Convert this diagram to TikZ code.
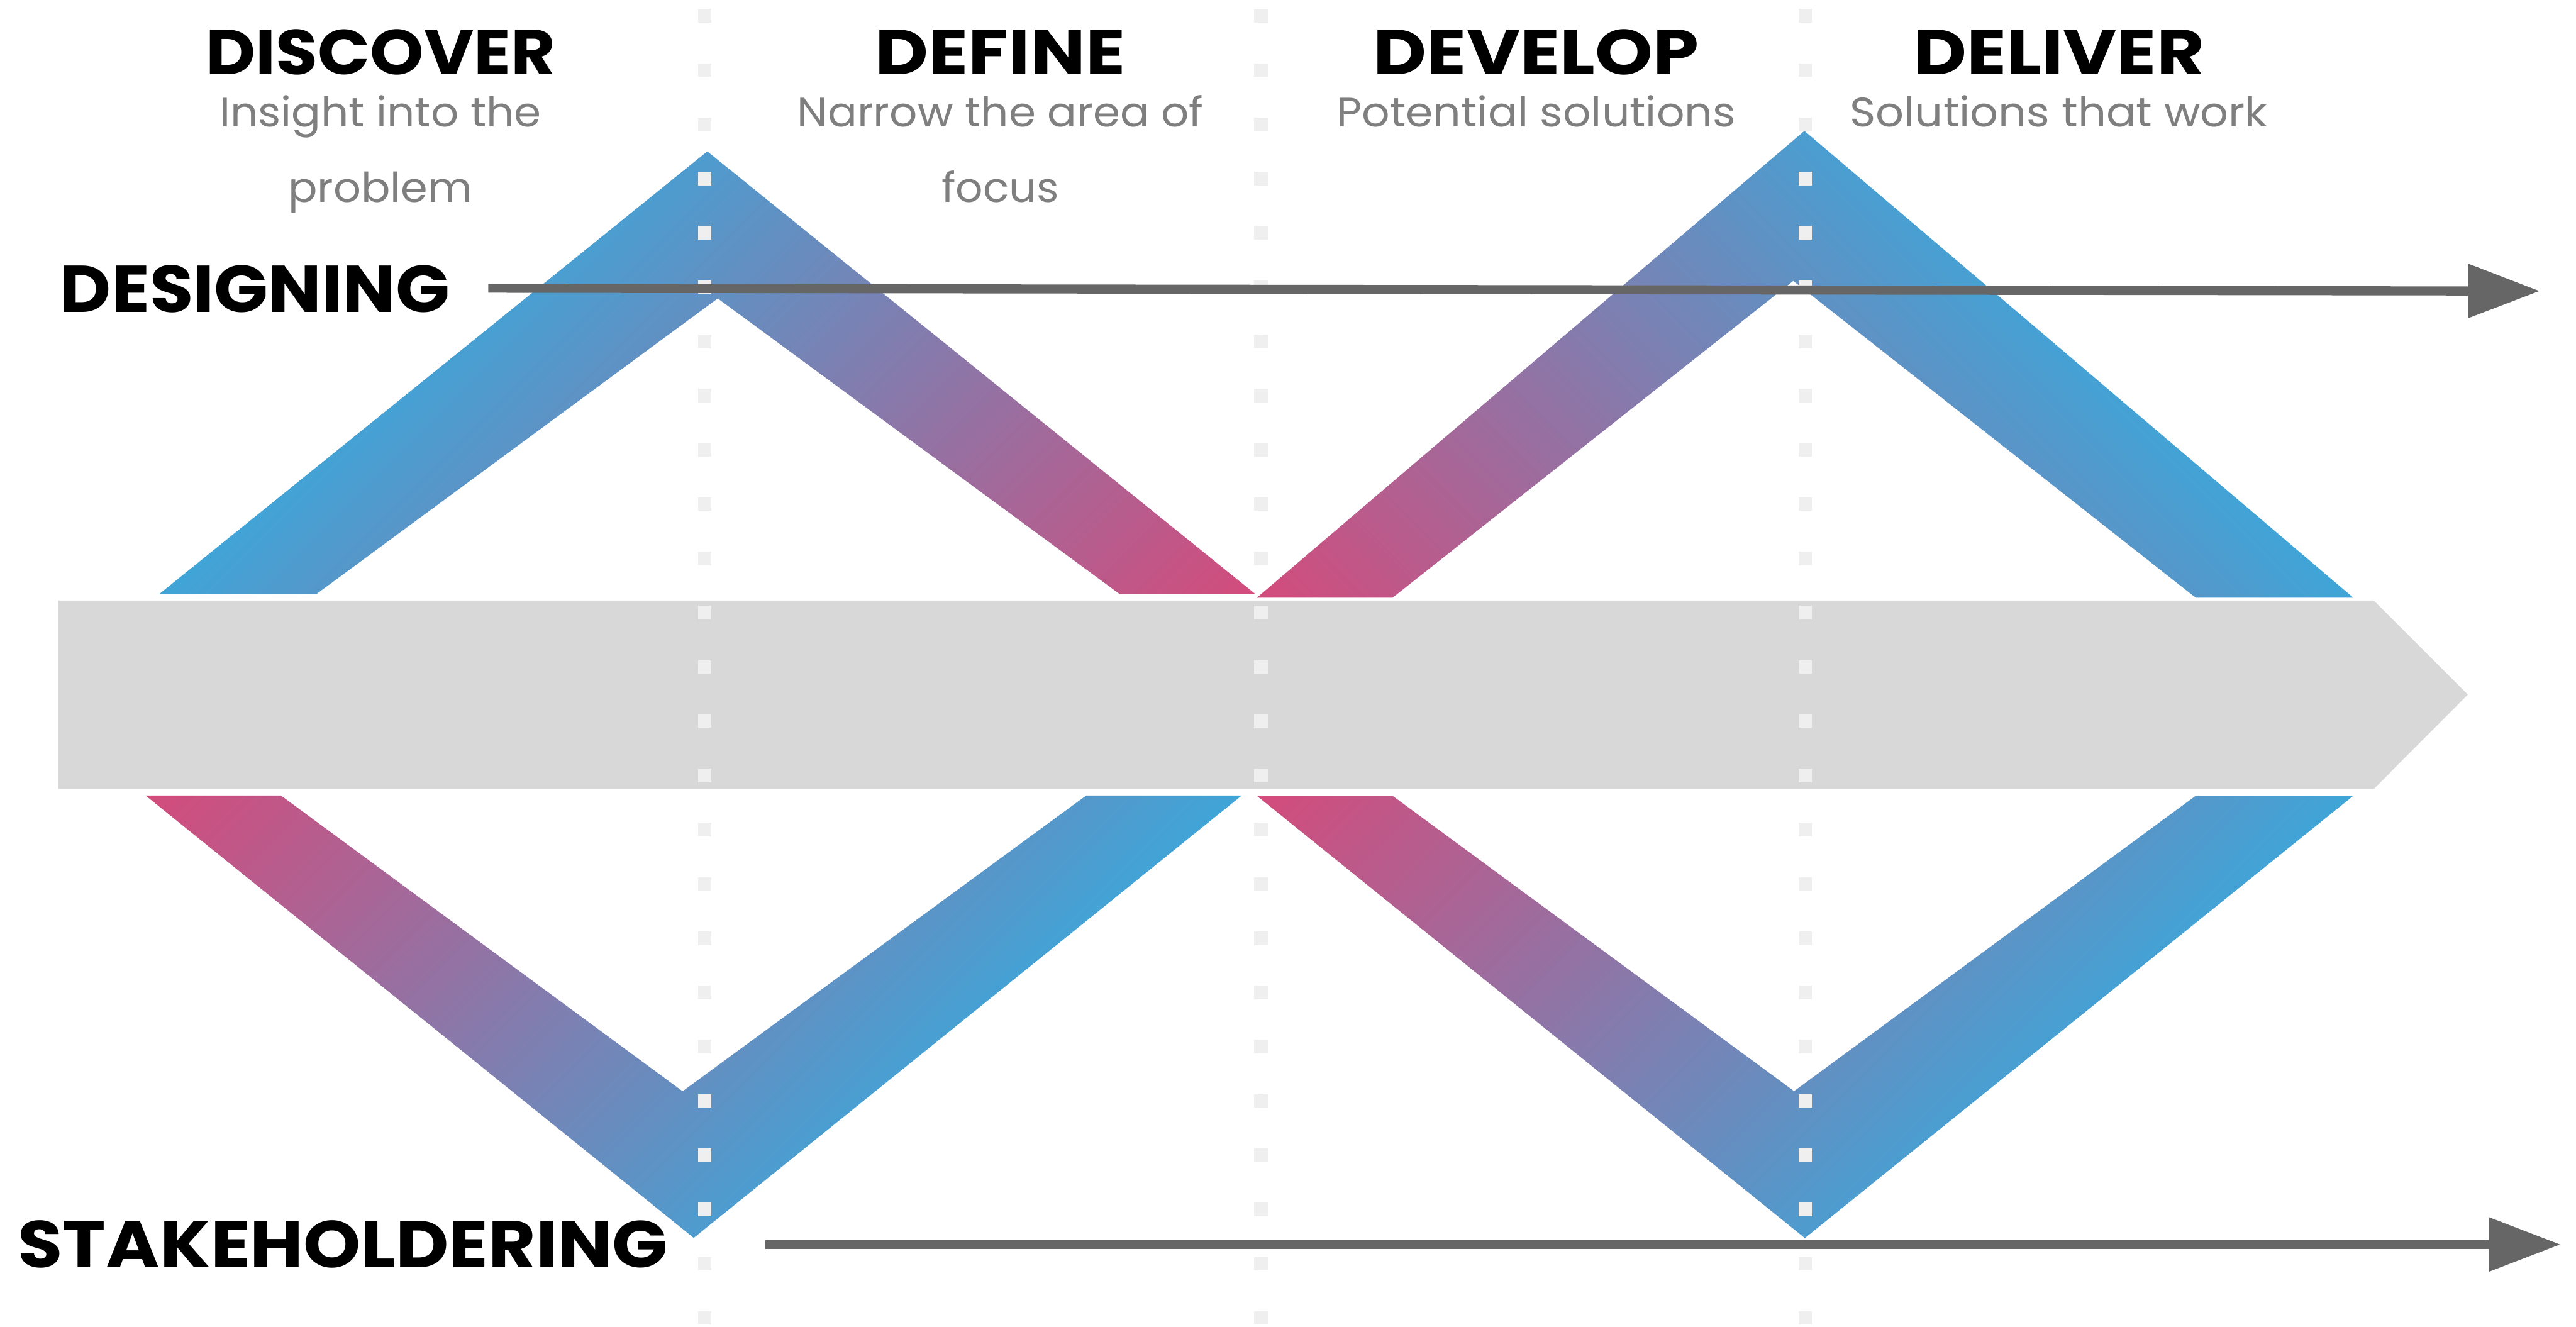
\documentclass[tikz,border=0pt]{standalone}
\usepackage{graphicx}
\usepackage{fontspec}
\setmainfont{Poppins}
\usetikzlibrary{arrows.meta}

\definecolor{dvblue}{RGB}{63,165,216}
\definecolor{dvpink}{RGB}{212,75,123}
\definecolor{bandgray}{RGB}{216,216,216}
\definecolor{dotgray}{RGB}{239,239,239}
\definecolor{arrowgray}{RGB}{102,102,102}
\definecolor{subgray}{RGB}{127,127,127}

\tikzset{
  phase/.style={font=\fontsize{31.9}{36}\selectfont\bfseries, text=black, inner sep=0pt, anchor=base},
  phasenote/.style={font=\fontsize{20.7}{38.1}\selectfont, text=subgray, inner sep=0pt, anchor=base, align=center},
  track/.style={font=\fontsize{33.3}{38}\selectfont\bfseries, text=black, inner sep=0pt, anchor=base west},
  timeline/.style={draw=arrowgray, line width=1.6mm, -{Triangle[length=12.7mm,width=9.2mm]}},
  divider/.style={draw=dotgray, line width=2.4mm, dash pattern=on 2.4mm off 7.2mm},
}

\begin{document}
\begin{tikzpicture}
\useasboundingbox (0,0) rectangle (45.58,23.48);
\fill[white] (0,0) rectangle (45.58,23.48);

% upper chevron: discover / define (blue top-left to pink bottom-right)
\begin{scope}
  \clip (2.82,12.97) -- (12.515,20.80) -- (22.21,12.97) -- (19.81,12.97)
        -- (12.70,18.20) -- (5.60,12.97) -- cycle;
  \begin{scope}[transform canvas={rotate=-45}]
    \shade[left color=dvblue, right color=dvpink] (-7.25,-5) rectangle (6.60,40);
  \end{scope}
\end{scope}

% upper chevron: develop / deliver (pink bottom-left to blue top-right)
\begin{scope}
  \clip (22.24,12.905) -- (31.927,21.163) -- (41.637,12.905) -- (38.85,12.905)
        -- (31.73,18.51) -- (24.64,12.905) -- cycle;
  \begin{scope}[transform canvas={rotate=45}]
    \shade[left color=dvpink, right color=dvblue] (24.78,-40) rectangle (38.64,10);
  \end{scope}
\end{scope}

% lower chevron: discover / define (pink top-left to blue bottom-right)
\begin{scope}
  \clip (2.576,9.404) -- (12.275,1.577) -- (21.97,9.404) -- (19.22,9.404)
        -- (12.078,4.17) -- (4.97,9.404) -- cycle;
  \begin{scope}[transform canvas={rotate=-45}]
    \shade[left color=dvpink, right color=dvblue] (-4.90,-5) rectangle (8.95,40);
  \end{scope}
\end{scope}

% lower chevron: develop / deliver (pink top-left to blue bottom-right)
\begin{scope}
  \clip (22.24,9.398) -- (31.935,1.574) -- (41.637,9.398) -- (38.85,9.398)
        -- (31.744,4.172) -- (24.64,9.398) -- cycle;
  \begin{scope}[transform canvas={rotate=-45}]
    \shade[left color=dvpink, right color=dvblue] (9.01,0) rectangle (22.86,50);
  \end{scope}
\end{scope}

% central grey process band with pointed end
\fill[bandgray] (1.03,12.855) -- (42.00,12.855) -- (43.666,11.19)
               -- (42.00,9.52) -- (1.03,9.52) -- cycle;

% dotted phase dividers
\draw[divider] (12.47,23.32) -- (12.47,0);
\draw[divider] (22.31,23.32) -- (22.31,0);
\draw[divider] (31.94,23.32) -- (31.94,0);

% phase headings
\node[phase] (discover) at (6.74,22.16)  {\scalebox{1.08}[1]{DISCOVER}};
\node[phase] (define)   at (17.70,22.16) {\scalebox{1.16}[1]{DEFINE}};
\node[phase] (develop)  at (27.18,22.16) {\scalebox{1.16}[1]{DEVELOP}};
\node[phase] (deliver)  at (36.43,22.16) {\scalebox{1.16}[1]{DELIVER}};

% phase descriptions (base anchor sits on the last line)
\node[phasenote] (discovernote) at (6.73,19.90)
  {\scalebox{1.06}[1]{Insight into the}\\\scalebox{1.05}[1]{problem}};
\node[phasenote] (definenote)   at (17.70,19.90)
  {\scalebox{1.06}[1]{Narrow the area of}\\\scalebox{1.04}[1]{focus}};
\node[phasenote] (developnote)  at (27.18,21.24) {\scalebox{1.066}[1]{Potential solutions}};
\node[phasenote] (delivernote)  at (36.43,21.24) {\scalebox{1.076}[1]{Solutions that work}};

% tracks
\node[track] (designing) at (1.05,17.96) {\scalebox{1.073}[1]{DESIGNING}};
\node[track] (stakeholdering) at (0.31,1.053) {\scalebox{1.104}[1]{STAKEHOLDERING}};

\coordinate (desStart) at (8.64,18.38);
\coordinate (desEnd)   at (44.94,18.33);
\coordinate (stkStart) at (13.537,1.46);
\coordinate (stkEnd)   at (45.307,1.46);

\draw[timeline] (desStart) -- (desEnd);
\draw[timeline] (stkStart) -- (stkEnd);
\end{tikzpicture}
\end{document}
